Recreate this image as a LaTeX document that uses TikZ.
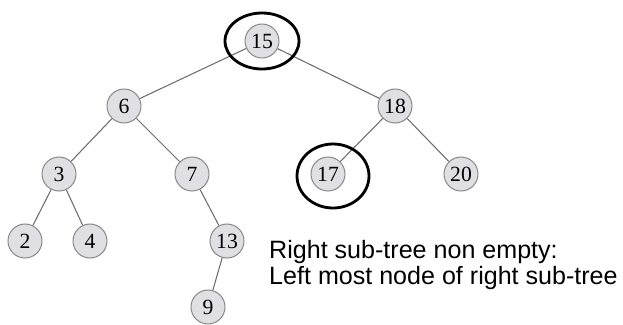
\documentclass[tikz,border=0pt]{standalone}
\usepackage{fontspec}
\setmainfont{Liberation Serif}
\newfontfamily\labelfont{Liberation Sans}
\usetikzlibrary{calc}

\definecolor{keyfill}{RGB}{224,224,228}
\tikzset{
    key/.style={circle, draw=gray!90, fill=keyfill, line width=0.9pt, minimum size=29pt, inner sep=0pt, font=\fontsize{18.5}{18.5}\selectfont},
    branch/.style={draw=gray!85!black, line width=0.9pt},
    ring/.style={draw=black, line width=2.4pt},
    note/.style={anchor=base west, inner sep=0pt, font=\labelfont\fontsize{21.4}{21.4}\selectfont}
}

\begin{document}
\begin{tikzpicture}[x=0.03cm, y=-0.03cm]
    \useasboundingbox (0,0) rectangle (623,324);

    % tree keys
    \node[key] (n15) at (262,41) {15};
    \node[key] (n6) at (124,106) {6};
    \node[key] (n18) at (395,106) {18};
    \node[key] (n3) at (59,174) {3};
    \node[key] (n7) at (192,174) {7};
    \node[key] (n17) at (328,174) {17};
    \node[key] (n20) at (461,174) {20};
    \node[key] (n2) at (25,241) {2};
    \node[key] (n4) at (90,241) {4};
    \node[key] (n13) at (227,241) {13};
    \node[key] (n9) at (208,307) {9};

    % branches
    \draw[branch] (n15) -- (n6);
    \draw[branch] (n15) -- (n18);
    \draw[branch] (n6) -- (n3);
    \draw[branch] (n6) -- (n7);
    \draw[branch] (n3) -- (n2);
    \draw[branch] (n3) -- (n4);
    \draw[branch] (n7) -- (n13);
    \draw[branch] (n13) -- (n9);
    \draw[branch] (n18) -- (n17);
    \draw[branch] (n18) -- (n20);

    % marks
    \draw[ring] (262,41) ellipse (37 and 28);
    \draw[ring] (333,176) ellipse (36 and 32);

    \node[note] (txta) at (269,258) {Right sub-tree non empty:};
    \node[note] (txtb) at (269,284) {Left most node of right sub-tree};
\end{tikzpicture}
\end{document}
